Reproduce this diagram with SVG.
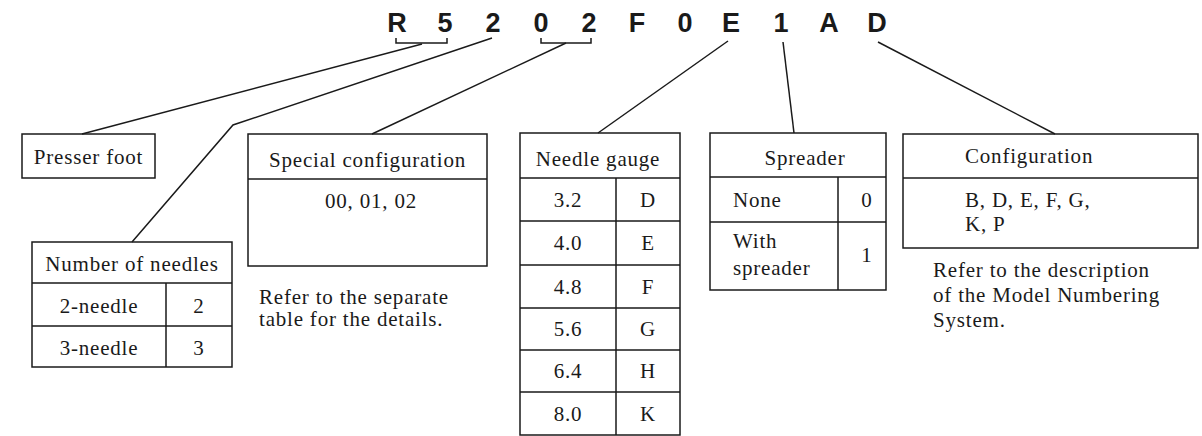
<svg xmlns="http://www.w3.org/2000/svg" width="1202" height="436" viewBox="0 0 1202 436">
<style>
.code{font-family:"Liberation Sans",Arial,sans-serif;font-weight:bold;font-size:27px;fill:#1a1a1a;text-anchor:middle}
.t{font-family:"Liberation Serif","Times New Roman",serif;font-size:21px;letter-spacing:0.8px;fill:#1a1a1a}
.m{text-anchor:middle}
.box{fill:none;stroke:#1a1a1a;stroke-width:1.5}
.ln{fill:none;stroke:#1a1a1a;stroke-width:1.5}
</style>
<rect width="1202" height="436" fill="#fff"/>
<g id="code">
<text class="code" x="397" y="32">R</text>
<text class="code" x="445" y="32">5</text>
<text class="code" x="493" y="32">2</text>
<text class="code" x="541" y="32">0</text>
<text class="code" x="589" y="32">2</text>
<text class="code" x="637" y="32">F</text>
<text class="code" x="685" y="32">0</text>
<text class="code" x="731" y="32">E</text>
<text class="code" x="781" y="32">1</text>
<text class="code" x="829" y="32">A</text>
<text class="code" x="877" y="32">D</text>
</g>
<g id="connectors">
<path class="ln" d="M396,38 V43 H447 V38"/>
<path class="ln" d="M541,38 V43 H591 V38"/>
<path class="ln" d="M422,44 L82,134"/>
<path class="ln" d="M492,38 L233,125 L132,242"/>
<path class="ln" d="M566,43 L372,134"/>
<path class="ln" d="M728,41 L598,133"/>
<path class="ln" d="M783,42 L794,133"/>
<path class="ln" d="M878,42 L1055,134"/>
</g>
<g id="presser-foot">
<rect class="box" x="22" y="134" width="133" height="44"/>
<text class="t m" x="88.5" y="164">Presser foot</text>
</g>
<g id="number-of-needles">
<rect class="box" x="32" y="242" width="200" height="125"/>
<path class="ln" d="M32,283 H232 M32,326 H232 M166,283 V367"/>
<text class="t m" x="132" y="271">Number of needles</text>
<text class="t m" x="99" y="313">2-needle</text>
<text class="t m" x="199" y="313">2</text>
<text class="t m" x="99" y="355">3-needle</text>
<text class="t m" x="199" y="355">3</text>
</g>
<g id="special-configuration">
<rect class="box" x="248" y="134" width="239" height="132"/>
<path class="ln" d="M248,179 H487"/>
<text class="t m" x="367.5" y="167">Special configuration</text>
<text class="t m" x="371" y="208">00, 01, 02</text>
<text class="t" x="259" y="304">Refer to the separate</text>
<text class="t" x="259" y="326">table for the details.</text>
</g>
<g id="needle-gauge">
<rect class="box" x="520" y="133" width="160" height="302"/>
<path class="ln" d="M520,178 H680 M520,221 H680 M520,265 H680 M520,308 H680 M520,350 H680 M520,392 H680 M616,178 V435"/>
<text class="t m" x="598" y="166">Needle gauge</text>
<text class="t m" x="568" y="207">3.2</text><text class="t m" x="648" y="207">D</text>
<text class="t m" x="568" y="250">4.0</text><text class="t m" x="648" y="250">E</text>
<text class="t m" x="568" y="294">4.8</text><text class="t m" x="648" y="294">F</text>
<text class="t m" x="568" y="336">5.6</text><text class="t m" x="648" y="336">G</text>
<text class="t m" x="568" y="378">6.4</text><text class="t m" x="648" y="378">H</text>
<text class="t m" x="568" y="421">8.0</text><text class="t m" x="648" y="421">K</text>
</g>
<g id="spreader">
<rect class="box" x="710" y="133" width="176" height="157"/>
<path class="ln" d="M710,177 H886 M710,222 H886 M838,177 V290"/>
<text class="t m" x="805" y="165">Spreader</text>
<text class="t" x="733" y="207">None</text>
<text class="t m" x="867" y="207">0</text>
<text class="t" x="733" y="248">With</text>
<text class="t" x="733" y="275">spreader</text>
<text class="t m" x="867" y="262">1</text>
</g>
<g id="configuration">
<rect class="box" x="903" y="134" width="295" height="114"/>
<path class="ln" d="M903,178 H1198"/>
<text class="t" x="965" y="163">Configuration</text>
<text class="t" x="965" y="207">B, D, E, F, G,</text>
<text class="t" x="965" y="231">K, P</text>
<text class="t" x="933" y="277">Refer to the description</text>
<text class="t" x="933" y="302">of the Model Numbering</text>
<text class="t" x="933" y="327">System.</text>
</g>
</svg>
